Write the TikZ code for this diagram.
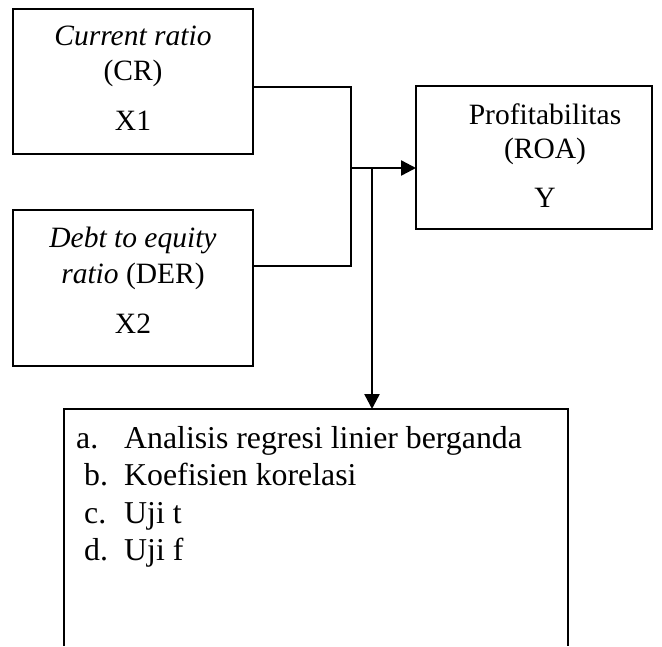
\documentclass[tikz,border=0pt]{standalone}
\usepackage{fontspec}
\setmainfont{Liberation Serif}
\usetikzlibrary{arrows.meta}
\begin{document}
\begin{tikzpicture}[x=1pt,y=-1pt,
  box/.style={draw,line width=1.5pt,inner sep=0pt,outer sep=0pt},
  txt/.style={anchor=base,inner sep=0pt,font=\fontsize{29.5}{33}\selectfont},
  ltxt/.style={anchor=base west,inner sep=0pt,font=\fontsize{31.8}{37}\selectfont},
  conn/.style={line width=2.4pt},
  arr/.style={conn,-{Triangle[length=15pt,width=15pt]}}]
\useasboundingbox (0,0) rectangle (662,646);
% boxes
\node[box,minimum width=240pt,minimum height=145pt] (b1) at (133,81.5) {};
\node[box,minimum width=240pt,minimum height=156pt] (b2) at (133,288) {};
\node[box,minimum width=236pt,minimum height=143pt] (b3) at (534,157.5) {};
\node[inner sep=0pt,outer sep=0pt,minimum width=504pt,minimum height=237pt] (b4) at (316,527.5) {};
\draw[line width=1.5pt] (b4.south west) -- (b4.north west) -- (b4.north east) -- (b4.south east);
% texts box 1
\node[txt] (t1a) at (133,45) {\itshape Current ratio};
\node[txt] (t1b) at (133,80) {(CR)};
\node[txt] (t1c) at (133,130) {X1};
% texts box 2
\node[txt] (t2a) at (133,247) {\itshape Debt to equity};
\node[txt] (t2b) at (133,283) {\textit{ratio} (DER)};
\node[txt] (t2c) at (133,333) {X2};
% texts box 3
\node[txt] (t3a) at (545,124) {Profitabilitas};
\node[txt] (t3b) at (545,158) {(ROA)};
\node[txt] (t3c) at (545,207) {Y};
% list
\node[ltxt] (la) at (76,448) {a.};
\node[ltxt] (lat) at (124,448) {Analisis regresi linier berganda};
\node[ltxt] (lb) at (84,485) {b.};
\node[ltxt] (lbt) at (124,485) {Koefisien korelasi};
\node[ltxt] (lc) at (84,523) {c.};
\node[ltxt] (lct) at (124,523) {Uji t};
\node[ltxt] (ld) at (84,560) {d.};
\node[ltxt] (ldt) at (124,560) {Uji f};
% connectors
\coordinate (j1) at (351,87);
\coordinate (j2) at (351,266);
\coordinate (hub) at (351,168);
\coordinate (split) at (372,168);
\draw[conn] (b1.east |- j1) -- (j1) -- (j2) -- (b2.east |- j2);
\draw[arr] (hub) -- (b3.west |- hub);
\draw[arr] (split) -- (split |- b4.north);
\end{tikzpicture}
\end{document}
